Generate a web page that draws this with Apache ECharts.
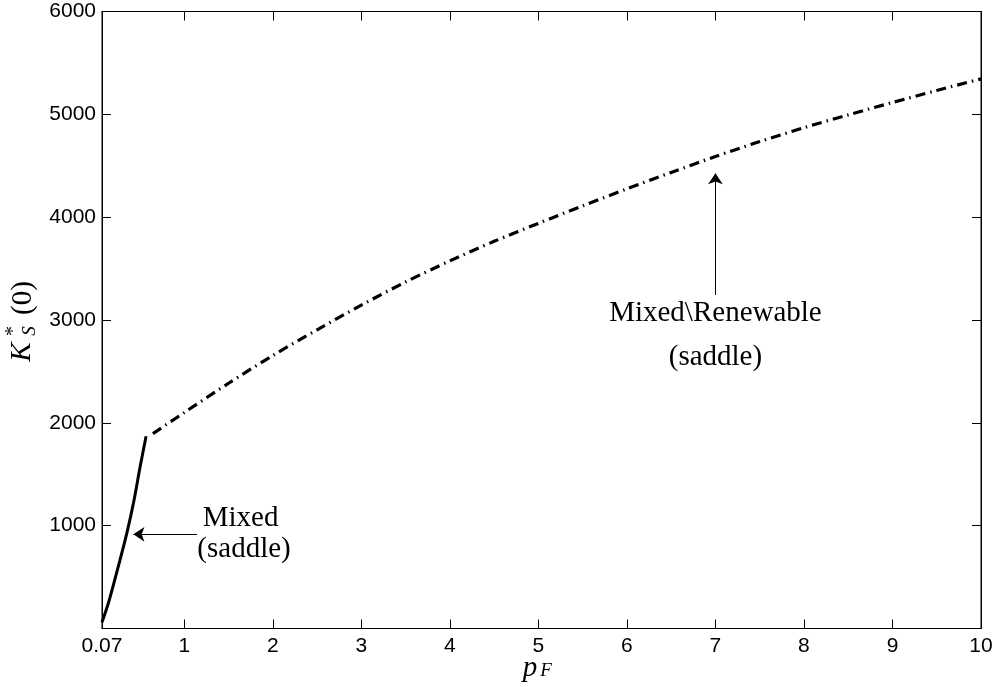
<!DOCTYPE html>
<html>
<head>
<meta charset="utf-8">
<script src="https://cdn.jsdelivr.net/npm/echarts@6/dist/echarts.min.js"></script>
<style>
  html, body { margin: 0; padding: 0; background: #fff; }
  #chart { width: 997px; height: 687px; }
</style>
</head>
<body>
<div id="chart"></div>
<script>
// Equilibrium capital K_S*(0) against the fossil price p_F
const mixedX = [0.07, 0.15, 0.25, 0.35, 0.43, 0.5, 0.568];
const mixedY = [60, 270, 590, 925, 1240, 1570, 1870];

const renewX = [0.645, 1, 1.5, 2, 2.5, 3, 3.5, 4, 4.5, 5, 5.5, 6, 6.5, 7, 7.5, 8, 8.5, 9, 9.5, 10];
const renewY = [1895, 2100, 2385, 2655, 2905, 3145, 3370, 3575, 3765, 3940, 4110, 4275, 4435, 4590, 4735, 4870, 4995, 5115, 5232, 5345];

const xTickValues = [0.07, 1, 2, 3, 4, 5, 6, 7, 8, 9, 10];
const xInnerTicks = [1, 2, 3, 4, 5, 6, 7, 8, 9];

// annotation arrows (tail -> head) and text lines, in data coordinates
const arrowTails = [[1.144, 916], [7, 3243]];
const arrowHeads = [[0.425, 916], [7, 4426]];
const noteX = [1.635, 1.675, 7, 7];
const noteY = [1075, 773, 3068, 2640];
const noteText = ['Mixed', '(saddle)', 'Mixed\\Renewable', '(saddle)'];

const zip = (a, b) => a.map((v, i) => [v, b[i]]);

const chart = echarts.init(document.getElementById('chart'), null, { renderer: 'canvas' });

const sansFont = 'Liberation Sans';
const serifFont = '"Liberation Serif"';

const tickStyle = { show: true, inside: true, length: 9, lineStyle: { color: '#000', width: 1 } };

const axisTitles = [
  {
    // y-axis title: K*_S(0), rotated to read bottom-up
    type: 'group', x: 24, y: 320, rotation: Math.PI / 2, silent: true,
    children: [
      { type: 'text', style: { text: 'K', x: -32, y: -2, align: 'center', verticalAlign: 'middle',
          font: 'italic 29px ' + serifFont, fill: '#000' } },
      { type: 'text', style: { text: '*', x: -11, y: -10, align: 'center', verticalAlign: 'middle',
          font: '20px ' + serifFont, fill: '#000' } },
      { type: 'text', style: { text: 'S', x: -11, y: 6, align: 'center', verticalAlign: 'middle',
          font: 'italic 19px ' + serifFont, fill: '#000' } },
      { type: 'text', style: { text: '(0)', x: 22, y: -1, align: 'center', verticalAlign: 'middle',
          font: '29px ' + serifFont, fill: '#000' } }
    ]
  },
  {
    // x-axis title: p_F
    type: 'group', x: 536, y: 668, silent: true,
    children: [
      { type: 'text', style: { text: 'p', x: -6, y: 0, align: 'center', verticalAlign: 'middle',
          font: 'italic 29px ' + serifFont, fill: '#000' } },
      { type: 'text', style: { text: 'F', x: 10, y: 3, align: 'center', verticalAlign: 'middle',
          font: 'italic 19px ' + serifFont, fill: '#000' } }
    ]
  }
];

const option = {
  animation: false,
  backgroundColor: '#fff',
  grid: {
    left: 102, right: 16, top: 11.5, bottom: 58.5,
    show: true, borderColor: '#000', borderWidth: 1,
    outerBoundsMode: 'none'
  },
  xAxis: [
    {
      type: 'value', min: 0.07, max: 10,
      axisLine: { show: true, onZero: false, lineStyle: { color: '#000', width: 1 } },
      axisTick: Object.assign({}, tickStyle, { customValues: xInnerTicks }),
      axisLabel: {
        customValues: xTickValues, color: '#000', fontFamily: sansFont, fontSize: 21, margin: 7,
        formatter: v => String(v)
      },
      splitLine: { show: false }
    },
    {
      type: 'value', min: 0.07, max: 10, position: 'top',
      axisLine: { show: true, onZero: false, lineStyle: { color: '#000', width: 1 } },
      axisTick: Object.assign({}, tickStyle, { customValues: xInnerTicks }),
      axisLabel: { show: false },
      splitLine: { show: false }
    }
  ],
  yAxis: [
    {
      type: 'value', min: 0, max: 6000, interval: 1000,
      axisLine: { show: true, onZero: false, lineStyle: { color: '#000', width: 1 } },
      axisTick: tickStyle,
      axisLabel: {
        color: '#000', fontFamily: sansFont, fontSize: 21, margin: 6,
        formatter: v => (v === 0 ? '' : String(v))
      },
      splitLine: { show: false }
    },
    {
      type: 'value', min: 0, max: 6000, interval: 1000, position: 'right',
      axisLine: { show: true, onZero: false, lineStyle: { color: '#000', width: 1 } },
      axisTick: tickStyle,
      axisLabel: { show: false },
      splitLine: { show: false }
    }
  ],
  series: [
    {
      name: 'Mixed',
      type: 'line',
      data: zip(mixedX, mixedY),
      showSymbol: false,
      smooth: 0.3,
      lineStyle: { color: '#000', width: 3, type: 'solid' }
    },
    {
      name: 'Mixed\\Renewable',
      type: 'line',
      data: zip(renewX, renewY),
      showSymbol: false,
      smooth: 0.3,
      lineStyle: { color: '#000', width: 3.2, type: [10, 5, 1.5, 5], cap: 'butt' }
    },
    {
      name: 'arrows',
      type: 'line',
      data: [],
      silent: true,
      itemStyle: { color: '#000' },
      markLine: {
        silent: true,
        symbol: ['none', 'arrow'],
        symbolSize: 11,
        label: { show: false },
        itemStyle: { color: '#000' },
        lineStyle: { color: '#000', width: 1, type: 'solid' },
        emphasis: { disabled: true },
        data: arrowTails.map((t, i) => [{ coord: t }, { coord: arrowHeads[i] }])
      }
    }
  ],
  graphic: axisTitles
};

chart.setOption(option);

// annotation text, placed through the grid's own coordinate conversion
const noteGraphics = noteText.map((txt, i) => {
  const p = chart.convertToPixel({ gridIndex: 0 }, [noteX[i], noteY[i]]);
  return {
    type: 'text', silent: true, x: p[0], y: p[1],
    style: { text: txt, align: 'center', verticalAlign: 'middle',
      font: '29px ' + serifFont, fill: '#000' }
  };
});
chart.setOption({ graphic: axisTitles.concat(noteGraphics) });
</script>
</body>
</html>
